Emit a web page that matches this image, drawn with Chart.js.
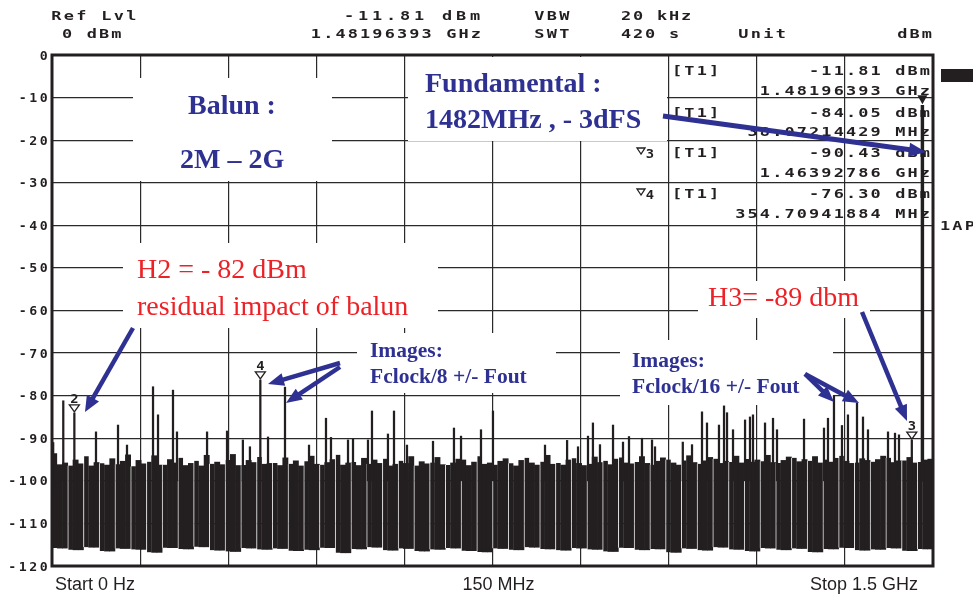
<!DOCTYPE html>
<html>
<head>
<meta charset="utf-8">
<title>Spectrum – balun 2M-2G</title>
<style>
  html, body { margin: 0; padding: 0; background: #fff; }
  #wrap { width: 973px; height: 598px; }
</style>
<script src="https://cdn.jsdelivr.net/npm/chart.js@4.4.1/dist/chart.umd.min.js"></script>
</head>
<body>
<div id="wrap"><canvas id="spectrum" width="973" height="598"></canvas></div>
<script>
// Span and level axis (MHz / dBm)
const spanMHz = [0, 1500]
const levelRange = [-120, 0]
const yTickValues = [0, -10, -20, -30, -40, -50, -60, -70, -80, -90, -100, -110, -120]
const yTickLabels = ['0', '-10', '-20', '-30', '-40', '-50', '-60', '-70', '-80', '-90', '-100', '-110', '-120']
const xLabels = ['Start 0 Hz', '150 MHz', 'Stop 1.5 GHz']

// Noise floor: top of each sweep bin (3 bins per block, 56 blocks)
const floorTop = [
  -93.5, -96.2, -95.8, -96.4, -95.1, -96.0, -94.2, -96.5, -95.7, -95.9, -96.3, -94.8,
  -96.1, -95.4, -93.9, -96.6, -95.2, -96.0, -95.5, -94.1, -96.3, -96.2, -95.0, -95.8,
  -94.6, -96.4, -95.9, -95.3, -96.5, -94.0, -96.0, -95.6, -96.2, -95.1, -93.8, -96.4,
  -96.3, -95.2, -95.7, -94.4, -96.1, -95.9, -95.8, -96.4, -94.6, -96.0, -95.3, -96.5,
  -95.4, -94.2, -96.1, -96.2, -95.7, -95.0, -93.9, -96.3, -95.8, -95.6, -96.4, -94.7,
  -96.0, -95.1, -95.9, -94.8, -96.5, -96.1, -95.3, -95.9, -94.3, -96.4, -95.5, -96.0,
  -95.7, -94.5, -96.2, -96.3, -95.8, -94.9, -95.0, -96.4, -95.6, -94.2, -96.1, -95.8,
  -96.2, -95.4, -94.8, -95.9, -96.5, -95.2, -94.6, -95.8, -96.3, -95.5, -94.0, -96.1,
  -95.8, -96.3, -95.1, -94.7, -95.9, -96.4, -96.0, -94.4, -95.7, -95.3, -96.2, -94.9,
  -94.5, -95.8, -96.0, -95.6, -94.3, -95.9, -96.2, -95.4, -94.6, -95.0, -95.8, -96.3,
  -95.2, -94.1, -95.7, -96.0, -95.3, -94.5, -94.8, -95.9, -95.4, -95.6, -94.2, -95.8,
  -94.9, -95.6, -95.1, -95.4, -94.0, -95.7, -95.8, -95.2, -94.4, -94.6, -95.5, -95.0,
  -95.3, -94.3, -95.8, -95.0, -95.6, -94.7, -94.1, -95.4, -95.9, -95.7, -94.8, -95.2,
  -95.5, -95.0, -94.2, -94.6, -95.7, -95.3, -95.2, -94.5, -95.8, -95.6, -95.1, -94.9,
]
// Bottom of each block
const floorBottom = [
  -115.8, -116.2, -115.6, -116.5, -115.9, -116.1, -116.8, -115.7,
  -116.0, -115.5, -116.3, -116.6, -115.8, -116.1, -115.9, -116.4,
  -116.2, -115.7, -116.9, -116.0, -115.6, -116.3, -115.9, -116.5,
  -116.1, -115.8, -116.4, -116.7, -115.9, -116.2, -115.6, -116.0,
  -116.3, -115.8, -116.1, -116.6, -115.7, -116.2, -116.0, -116.8,
  -115.9, -116.3, -115.6, -116.1, -116.5, -115.8, -116.2, -115.9,
  -116.7, -116.0, -115.7, -116.3, -116.1, -115.8, -116.4, -116.0,
]

// Discrete spurs sticking out of the floor
const spurFreq = [
  2, 19.2, 38.07, 74.9, 112.4, 127.7, 172, 180.5, 206, 212.8, 264, 298, 325, 337,
  354.71, 367.8, 396.7, 437.6, 466.5, 475, 504, 512.5, 538, 544.8, 572, 582.3, 604.4,
  648.7, 684.4, 696.4, 730.4, 750.8, 839.4, 877, 895.6, 912.6, 921, 933, 955.2, 972.2,
  982.4, 1004.5, 1021.6, 1026.7, 1074, 1089.7, 1106.7, 1115.2, 1135.6, 1144.2, 1149.3,
  1159.5, 1180, 1188.4, 1193.5, 1214, 1227.6, 1234.4, 1280.4, 1314.4, 1321.2, 1331.4,
  1345, 1355.2, 1370.6, 1380.8, 1389.3, 1423.4, 1435.3, 1442.1, 1463.93,
]
const spurLevel = [
  -91, -81.2, -84.05, -88.5, -86.9, -91.6, -77.9, -84.5, -78.7, -88.5, -88.5, -88.3, -90.4, -92,
  -76.3, -89.7, -78, -91.6, -85.3, -89.8, -90.4, -90.2, -90.4, -83.6, -89, -83.6, -91.6,
  -90.7, -87.6, -89.5, -88, -83.6, -91.6, -90.5, -92, -89.5, -86.4, -91.5, -86.9, -90.9,
  -89.6, -90, -90.4, -92, -90.9, -91.5, -83.8, -86.4, -86.9, -82.4, -84,
  -88, -85.7, -85, -84.5, -86.4, -85.3, -88, -85.5, -87.6, -85.3, -80,
  -87, -84.5, -81.7, -85, -88, -88.5, -88.8, -89.2, -90.43,
]

// Marker readouts (marker 1 = fundamental)
const markerNames = ['1', '2', '3', '4']
const markerFreq = [1481.96393, 38.07214429, 1463.92786, 354.70941884]
const markerLevel = [-11.81, -84.05, -90.43, -76.30]
const markerLevelText = ['-11.81 dBm', '-84.05 dBm', '-90.43 dBm', '-76.30 dBm']
const markerFreqText = ['1.48196393 GHz', '38.07214429 MHz', '1.46392786 GHz', '354.70941884 MHz']

const TRACE = '#231f20'
const GRID = '#2a2a2a'
const BLUE = '#2e3192'
const RED = '#ec2227'

function mono(ctx, text, x, y, opts) {
  const pitch = opts.pitch || 12.3
  const start = opts.align === 'right' ? x - text.length * pitch : x
  ctx.font = 'bold ' + (opts.size || 13) + 'px "DejaVu Sans Mono"'
  ctx.textAlign = 'center'
  ctx.textBaseline = 'alphabetic'
  ctx.fillStyle = TRACE
  for (let i = 0; i < text.length; i++) {
    if (text[i] === ' ') continue
    ctx.save()
    ctx.translate(start + (i + 0.5) * pitch, y)
    ctx.scale(opts.sx || 1.3, 1)
    ctx.fillText(text[i], 0, 0)
    ctx.restore()
  }
}

function triangle(ctx, cx, tipY, w, h, filled) {
  ctx.beginPath()
  ctx.moveTo(cx, tipY)
  ctx.lineTo(cx - w / 2, tipY - h)
  ctx.lineTo(cx + w / 2, tipY - h)
  ctx.closePath()
  ctx.lineWidth = 1.3
  ctx.strokeStyle = TRACE
  ctx.fillStyle = TRACE
  if (filled) ctx.fill()
  else ctx.stroke()
}

function arrow(ctx, x1, y1, x2, y2, w, head, headW) {
  const a = Math.atan2(y2 - y1, x2 - x1)
  const bx = x2 - head * Math.cos(a)
  const by = y2 - head * Math.sin(a)
  ctx.strokeStyle = BLUE
  ctx.fillStyle = BLUE
  ctx.lineWidth = w
  ctx.lineCap = 'butt'
  ctx.beginPath()
  ctx.moveTo(x1, y1)
  ctx.lineTo(bx + Math.cos(a), by + Math.sin(a))
  ctx.stroke()
  ctx.beginPath()
  ctx.moveTo(x2, y2)
  ctx.lineTo(bx + (headW / 2) * Math.sin(a), by - (headW / 2) * Math.cos(a))
  ctx.lineTo(bx - (headW / 2) * Math.sin(a), by + (headW / 2) * Math.cos(a))
  ctx.closePath()
  ctx.fill()
}

function label(ctx, text, x, y, font, color) {
  ctx.font = font
  ctx.fillStyle = color
  ctx.textAlign = 'left'
  ctx.textBaseline = 'alphabetic'
  ctx.fillText(text, x, y)
}

/**
 * Analyzer screen decorations: white annotation boxes over the graticule,
 * frame, marker symbols, readout table, header and annotations.
 */
const analyzerScreen = {
  id: 'analyzerScreen',

  beforeDatasetsDraw(chart) {
    const ctx = chart.ctx
    ctx.save()
    ctx.fillStyle = '#fff'
    // annotation backgrounds hide the graticule
    ctx.fillRect(133, 78, 199, 103)
    ctx.fillRect(408, 57, 259, 84)
    ctx.fillRect(123, 243, 315, 85)
    ctx.fillRect(357, 333, 199, 60)
    ctx.fillRect(620, 340, 213, 65)
    ctx.fillRect(698, 281, 172, 37)
    ctx.restore()
  },

  afterDraw(chart) {
    const ctx = chart.ctx
    const area = chart.chartArea
    const xs = chart.scales.x
    const ys = chart.scales.y
    ctx.save()

    // frame
    ctx.strokeStyle = TRACE
    ctx.lineWidth = 3
    ctx.strokeRect(area.left, area.top, area.right - area.left, area.bottom - area.top)

    // level labels
    yTickValues.forEach((v, i) => {
      mono(ctx, yTickLabels[i], 49, ys.getPixelForValue(v) + 4.5, { align: 'right', pitch: 10.5, size: 11.5, sx: 1.15 })
    })

    // frequency labels
    ctx.font = '18px "Liberation Sans"'
    ctx.fillStyle = TRACE
    ctx.textBaseline = 'alphabetic'
    ctx.textAlign = 'left'
    ctx.fillText(xLabels[0], area.left + 3, 590)
    ctx.textAlign = 'center'
    ctx.fillText(xLabels[1], (area.left + area.right) / 2 + 6, 590)
    ctx.textAlign = 'right'
    ctx.fillText(xLabels[2], area.right - 15, 590)

    // header
    mono(ctx, 'Ref Lvl', 50, 19.5, { pitch: 12.5 })
    mono(ctx, '0 dBm', 61, 38, {})
    mono(ctx, '-11.81 dBm', 342, 19.5, { pitch: 14 })
    mono(ctx, '1.48196393 GHz', 482, 38, { align: 'right' })
    mono(ctx, 'VBW', 533, 19.5, { pitch: 12.5 })
    mono(ctx, '20 kHz', 620, 19.5, { pitch: 12 })
    mono(ctx, 'SWT', 533, 38, { pitch: 12.5 })
    mono(ctx, '420 s', 620, 38, { pitch: 12 })
    mono(ctx, 'Unit', 737, 38, { pitch: 12.5 })
    mono(ctx, 'dBm', 933, 38, { align: 'right' })

    // markers on the trace
    markerFreq.forEach((f, i) => {
      const x = xs.getPixelForValue(f)
      const y = ys.getPixelForValue(markerLevel[i]) - 1
      if (i === 0) {
        triangle(ctx, x, y, 10, 9, true)
        return
      }
      triangle(ctx, x, y, 10, 7, false)
      mono(ctx, markerNames[i], x - 6.15, y - 9, { size: 12, sx: 1.15 })
    })

    // marker readout table
    const rowBase = [75, 116.5, 157, 198]
    markerLevelText.forEach((t, i) => {
      const yb = rowBase[i]
      mono(ctx, '[T1]', 671, yb, {})
      mono(ctx, t, 931, yb, { align: 'right' })
      mono(ctx, markerFreqText[i], 931, yb + 19.5, { align: 'right' })
      if (i >= 2) {
        triangle(ctx, 641, yb - 3, 8, 6, false)
        mono(ctx, markerNames[i], 645, yb + 1, { size: 12, pitch: 10, sx: 1.15 })
      }
    })

    // right side softkey area
    ctx.fillStyle = TRACE
    ctx.fillRect(941, 69, 32, 13)
    mono(ctx, '1AP', 939, 230, {})

    // annotations
    const serifB = 'bold 28px "Liberation Serif"'
    const serif = '28px "Liberation Serif"'
    const serifS = 'bold 21.5px "Liberation Serif"'
    label(ctx, 'Balun :', 188, 114, serifB, BLUE)
    label(ctx, '2M \u2013 2G', 180, 168, serifB, BLUE)
    label(ctx, 'Fundamental :', 425, 92, serifB, BLUE)
    label(ctx, '1482MHz , - 3dFS', 425, 128, serifB, BLUE)
    label(ctx, 'H2 = - 82 dBm', 137, 278, serif, RED)
    label(ctx, 'residual impact of balun', 137, 315, serif, RED)
    label(ctx, 'H3= -89 dbm', 708, 306, serif, RED)
    label(ctx, 'Images:', 370, 357, serifS, BLUE)
    label(ctx, 'Fclock/8 +/- Fout', 370, 383, serifS, BLUE)
    label(ctx, 'Images:', 632, 367, serifS, BLUE)
    label(ctx, 'Fclock/16 +/- Fout', 632, 393, serifS, BLUE)

    // arrows
    arrow(ctx, 663, 116, 926, 152, 5, 17, 14)
    arrow(ctx, 133, 328, 85, 412, 4.5, 16, 14)
    arrow(ctx, 340, 363, 268, 384, 4.5, 16, 13)
    arrow(ctx, 340, 367, 286, 403, 4.5, 16, 13)
    arrow(ctx, 862, 312, 907, 421, 4.5, 16, 13)
    arrow(ctx, 805, 374, 834, 402, 4.5, 16, 13)
    arrow(ctx, 805, 374, 859, 403, 4.5, 16, 13)

    ctx.restore()
  },
}

new Chart(document.getElementById('spectrum'), {
  type: 'bar',
  data: {
    labels: floorTop.map((_, i) => i),
    datasets: [
      {
        label: 'fundamental',
        xAxisID: 'x',
        grouped: false,
        data: [{ x: markerFreq[0], y: [-100, markerLevel[0]] }],
        barThickness: 2.8,
        backgroundColor: TRACE,
      },
      {
        label: 'spurs',
        xAxisID: 'x',
        grouped: false,
        data: spurFreq.map((f, i) => ({ x: f, y: [-100, spurLevel[i]] })),
        barThickness: 1.6,
        backgroundColor: TRACE,
      },
      {
        label: 'floor',
        xAxisID: 'bins',
        grouped: false,
        data: floorTop.map((t, i) => [floorBottom[Math.floor(i / 3)], t]),
        categoryPercentage: 1,
        barPercentage: 1,
        backgroundColor: TRACE,
        borderColor: 'rgba(255,255,255,0.8)',
        borderSkipped: false,
        borderWidth: (c) => (c.dataIndex % 3 === 0 ? { left: 1 } : 0),
      },
    ],
  },
  options: {
    responsive: false,
    animation: false,
    devicePixelRatio: 1,
    layout: { padding: { left: 52, top: 55, right: 40, bottom: 32 } },
    plugins: {
      legend: { display: false },
      tooltip: { enabled: false },
    },
    scales: {
      bins: { type: 'category', display: false, offset: true },
      x: {
        type: 'linear',
        min: spanMHz[0],
        max: spanMHz[1],
        offset: false,
        ticks: { display: false, stepSize: 150 },
        grid: { color: GRID, lineWidth: 1.2, drawTicks: false, offset: false },
        border: { display: false },
      },
      y: {
        min: levelRange[0],
        max: levelRange[1],
        ticks: { display: false, stepSize: 10 },
        grid: { color: GRID, lineWidth: 1.2, drawTicks: false },
        border: { display: false },
      },
    },
  },
  plugins: [analyzerScreen],
})
</script>
</body>
</html>
